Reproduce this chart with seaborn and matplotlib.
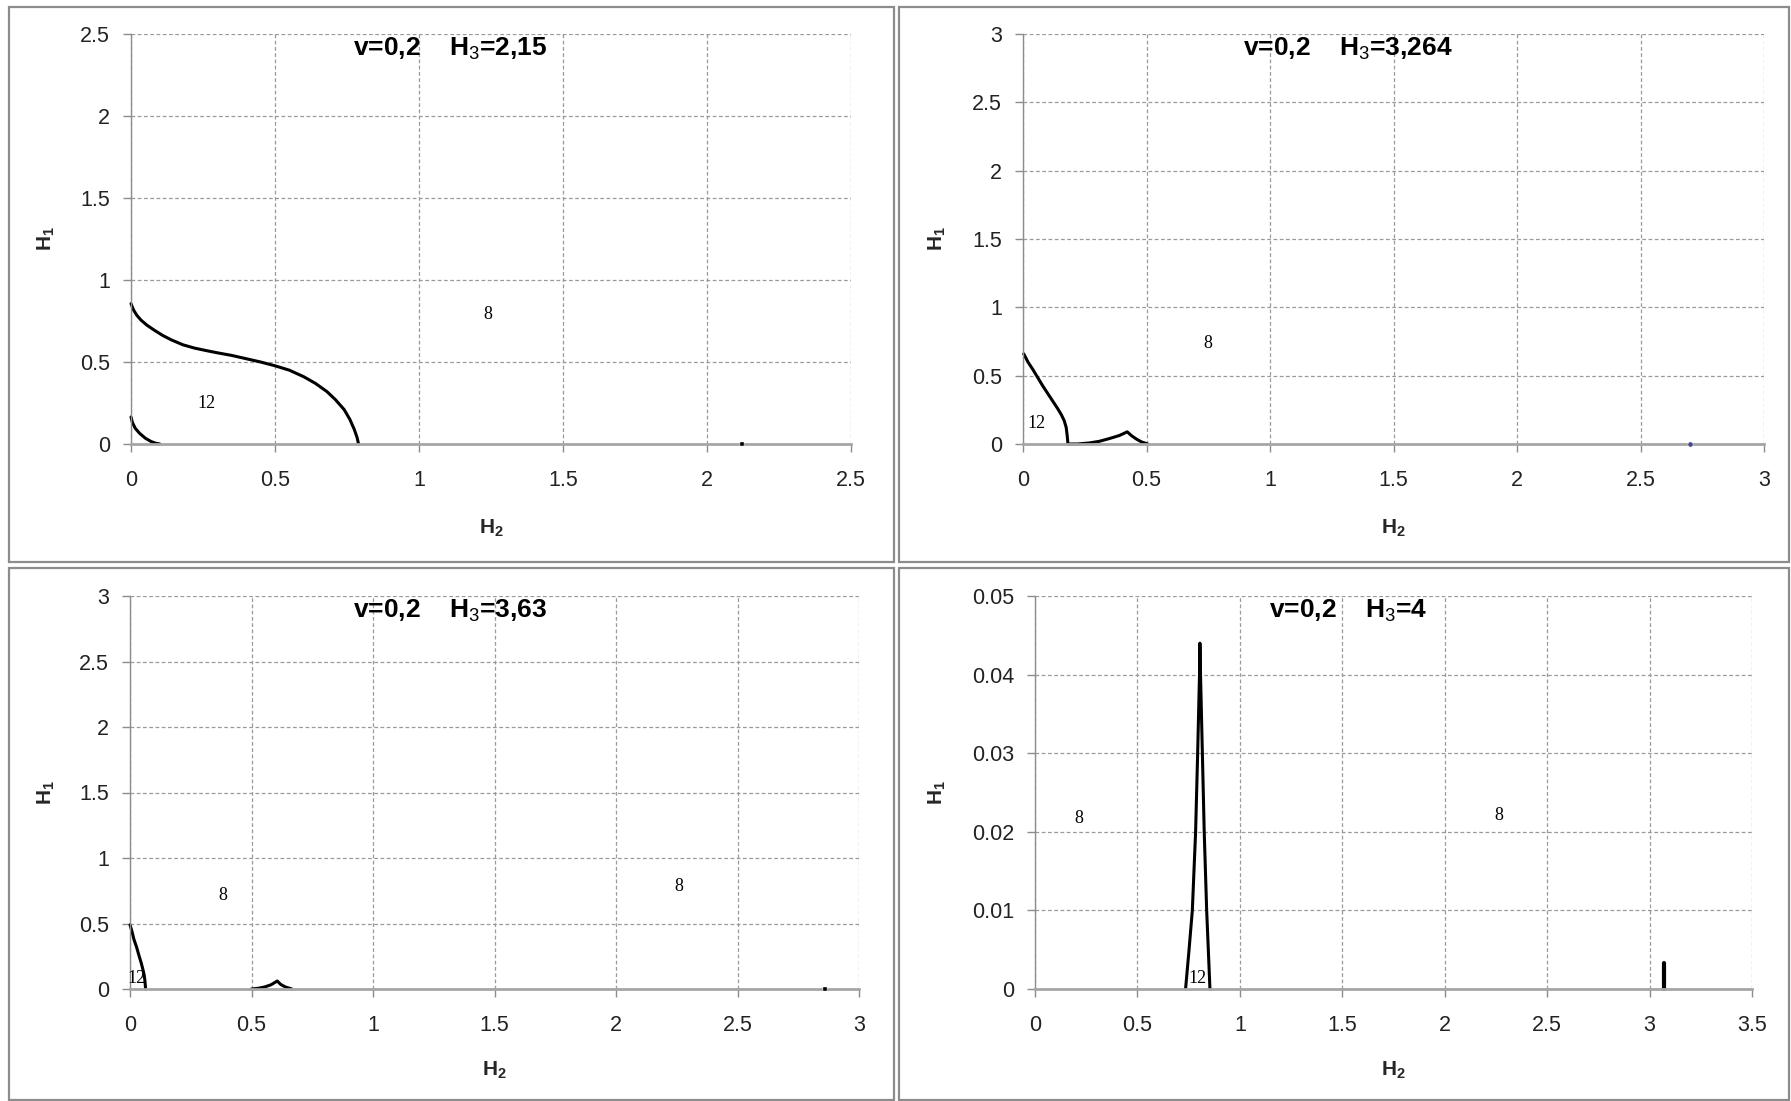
import numpy as np
import pandas as pd
import matplotlib
matplotlib.use("Agg")
import matplotlib.pyplot as plt
from matplotlib.patches import Rectangle
from matplotlib.ticker import FuncFormatter, MultipleLocator
import seaborn as sns

# ---------------- data ----------------
# Panel 1: H3 = 2.15
p1_big_x = [0.0, 0.008, 0.02, 0.035, 0.055, 0.08, 0.11, 0.14, 0.18, 0.22, 0.26, 0.30, 0.35, 0.40,
            0.45, 0.50, 0.55, 0.60, 0.64, 0.68, 0.71, 0.74, 0.76, 0.775, 0.785, 0.79]
p1_big_y = [0.856, 0.82, 0.785, 0.755, 0.725, 0.695, 0.662, 0.635, 0.605, 0.585, 0.57, 0.556, 0.54, 0.52,
            0.50, 0.477, 0.45, 0.41, 0.37, 0.32, 0.27, 0.21, 0.15, 0.09, 0.04, 0.0]
p1_small_x = [0.0, 0.005, 0.015, 0.03, 0.05, 0.07, 0.085, 0.10]
p1_small_y = [0.165, 0.13, 0.095, 0.065, 0.035, 0.015, 0.005, 0.0]
p1_dot_x = [2.12]
p1_dot_y = [0.0]

# Panel 2: H3 = 3.264
p2_x = [0.003, 0.02, 0.04, 0.06, 0.08, 0.10, 0.12, 0.14, 0.155, 0.167, 0.175, 0.179, 0.182,
        0.22, 0.27, 0.31, 0.35, 0.39, 0.422, 0.44, 0.46, 0.48, 0.505]
p2_y = [0.66, 0.60, 0.545, 0.485, 0.425, 0.37, 0.315, 0.26, 0.215, 0.17, 0.12, 0.06, 0.0,
        0.0, 0.008, 0.02, 0.04, 0.062, 0.089, 0.06, 0.035, 0.015, 0.0]
p2_dot_x = [2.7]
p2_dot_y = [0.0]

# Panel 3: H3 = 3.63
p3_a_x = [0.0, 0.008, 0.016, 0.027, 0.037, 0.046, 0.053, 0.058, 0.061, 0.063, 0.064]
p3_a_y = [0.49, 0.44, 0.38, 0.32, 0.255, 0.20, 0.15, 0.11, 0.07, 0.03, 0.0]
p3_b_x = [0.5, 0.53, 0.555, 0.58, 0.606, 0.62, 0.64, 0.666]
p3_b_y = [0.0, 0.006, 0.016, 0.032, 0.061, 0.035, 0.015, 0.0]
p3_dot_x = [2.86]
p3_dot_y = [0.0]

# Panel 4: H3 = 4
p4_peak_x = [0.735, 0.752, 0.768, 0.784, 0.794, 0.803, 0.805, 0.808, 0.817, 0.826, 0.838, 0.846, 0.854]
p4_peak_y = [0.0, 0.005, 0.01, 0.02, 0.03, 0.04, 0.044, 0.04, 0.03, 0.02, 0.01, 0.005, 0.0]
p4_bar_x = [3.07, 3.07]
p4_bar_y = [0.0, 0.0033]

titles = ["v=0,2    H$_3$=2,15", "v=0,2    H$_3$=3,264", "v=0,2    H$_3$=3,63", "v=0,2    H$_3$=4"]
xmax = [2.5, 3.0, 3.0, 3.5]
ymax = [2.5, 3.0, 3.0, 0.05]
ystep = [0.5, 0.5, 0.5, 0.01]
title_x = [1.107, 1.315, 1.317, 1.527]

labels = [
    [("8", 1.238, 0.787), ("12", 0.262, 0.25)],
    [("8", 0.75, 0.735), ("12", 0.056, 0.15)],
    [("8", 0.381, 0.715), ("8", 2.257, 0.785), ("12", 0.028, 0.078)],
    [("8", 0.212, 0.0217), ("8", 2.263, 0.0221), ("12", 0.791, 0.0013)],
]

# ---------------- style ----------------
sns.set_theme(style="white")
plt.rcParams["font.family"] = ["Liberation Sans Narrow", "Liberation Sans", "DejaVu Sans"]
plt.rcParams["mathtext.fontset"] = "custom"
plt.rcParams["mathtext.rm"] = "Liberation Sans"
plt.rcParams["mathtext.bf"] = "Liberation Sans:bold"
plt.rcParams["mathtext.it"] = "Liberation Sans"

W, H = 1791, 1101
fig = plt.figure(figsize=(W / 100, H / 100), dpi=100)
fig.patch.set_facecolor("white")

ax_px = [(131, 851, 34, 444), (1023, 1764, 34, 444), (130, 859, 596, 989), (1035, 1752, 596, 989)]
frames_px = [(9, 894, 7, 562), (899, 1789, 7, 562), (9, 894, 568, 1100), (899, 1789, 568, 1100)]
ylab_x = [-0.103, -0.101, -0.100, -0.121]

for (x0, x1, y0, y1) in frames_px:
    fig.patches.append(Rectangle((x0 / W, 1 - y1 / H), (x1 - x0) / W, (y1 - y0) / H,
                                 transform=fig.transFigure, fill=False,
                                 edgecolor="#8c8c8c", linewidth=1.6, zorder=0))

axes = []
for (l, r, t, b) in ax_px:
    ax = fig.add_axes([l / W, 1 - b / H, (r - l) / W, (b - t) / H])
    axes.append(ax)

line_kw = dict(sort=False, estimator=None, color="black", linewidth=2.2, clip_on=False)

sns.lineplot(x=p1_big_x, y=p1_big_y, ax=axes[0], **line_kw)
sns.lineplot(x=p1_small_x, y=p1_small_y, ax=axes[0], **line_kw)
sns.scatterplot(x=p1_dot_x, y=p1_dot_y, ax=axes[0], color="black", marker="s", s=10, clip_on=False, zorder=5)

sns.lineplot(x=p2_x, y=p2_y, ax=axes[1], **line_kw)
sns.scatterplot(x=p2_dot_x, y=p2_dot_y, ax=axes[1], color="#4a4a8a", s=14, clip_on=False, zorder=5)

sns.lineplot(x=p3_a_x, y=p3_a_y, ax=axes[2], **line_kw)
sns.lineplot(x=p3_b_x, y=p3_b_y, ax=axes[2], **line_kw)
sns.scatterplot(x=p3_dot_x, y=p3_dot_y, ax=axes[2], color="black", marker="s", s=10, clip_on=False, zorder=5)

sns.lineplot(x=p4_peak_x, y=p4_peak_y, ax=axes[3], **line_kw)
sns.lineplot(x=p4_bar_x, y=p4_bar_y, ax=axes[3], sort=False, estimator=None, color="black",
             linewidth=3.0, clip_on=False)

fmt = FuncFormatter(lambda v, p: ("%g" % round(v, 4)))

for i, ax in enumerate(axes):
    ax.set_xlim(0, xmax[i])
    ax.set_ylim(0, ymax[i])
    ax.xaxis.set_major_locator(MultipleLocator(0.5))
    ax.yaxis.set_major_locator(MultipleLocator(ystep[i]))
    ax.xaxis.set_major_formatter(fmt)
    ax.yaxis.set_major_formatter(fmt)
    ax.grid(True, linestyle=(0, (3, 2)), color="#9a9a9a", linewidth=0.9)
    ax.set_axisbelow(True)
    for s in ["top", "right"]:
        ax.spines[s].set_visible(False)
    ax.spines["left"].set_color("#8c8c8c")
    ax.spines["left"].set_linewidth(1.0)
    ax.spines["bottom"].set_color("#a6a6a6")
    ax.spines["bottom"].set_linewidth(2.0)
    ax.tick_params(axis="both", which="major", direction="out", length=6, width=1.0,
                   color="#8c8c8c", labelsize=15.5, labelcolor="#222222",
                   bottom=True, left=True)
    ax.tick_params(axis="x", pad=13)
    ax.tick_params(axis="y", pad=9)
    ax.set_xlabel("H$_\\mathbf{2}$", fontsize=15, fontweight="bold")
    ax.set_ylabel("H$_\\mathbf{1}$", fontsize=15, fontweight="bold")
    ax.xaxis.set_label_coords(0.5, -0.18)
    ax.yaxis.set_label_coords(ylab_x[i], 0.5)
    ax.text(title_x[i], ymax[i] * 0.995, titles[i], ha="center", va="top",
            fontsize=19, fontweight="bold", color="black")
    for (txt, tx, ty) in labels[i]:
        ax.text(tx, ty, txt, ha="center", va="center", fontsize=13, color="black",
                family=["Liberation Serif", "DejaVu Serif"])

fig.savefig("out.png", dpi=100, facecolor="white")
